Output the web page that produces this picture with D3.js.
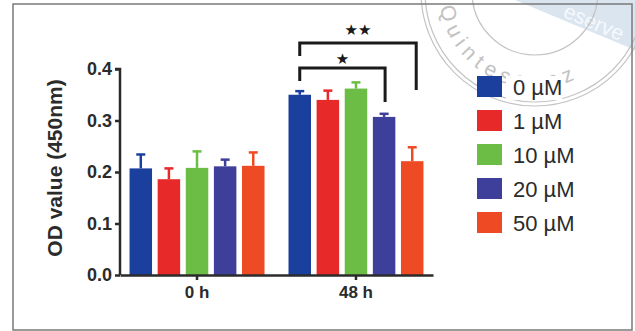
<!DOCTYPE html>
<html>
<head>
<meta charset="utf-8">
<script src="https://cdn.jsdelivr.net/npm/d3@7"></script>
<style>
  body { margin: 0; background: #fff; }
  svg { display: block; font-family: Arial, "Liberation Sans", sans-serif; }
</style>
</head>
<body>
<div id="chart"></div>
<script>
// data
const groups = ["0 h", "48 h"];
const doses = ["0 µM", "1 µM", "10 µM", "20 µM", "50 µM"];
const colors = ["#1a3f9c", "#e8292a", "#6cbd45", "#3d3f9a", "#ee4a23"];
const means0h = [0.207, 0.186, 0.208, 0.211, 0.212];
const err0h = [0.027, 0.021, 0.032, 0.013, 0.026];
const means48h = [0.350, 0.340, 0.362, 0.307, 0.221];
const err48h = [0.007, 0.018, 0.012, 0.006, 0.027];
const yTicks = [0.0, 0.1, 0.2, 0.3, 0.4];

const width = 635, height = 331;
const ink = "#2b2b2b";
const svg = d3.select("#chart").append("svg")
  .attr("width", width)
  .attr("height", height);

// watermark (stamp + band)
const wm = svg.append("g");
wm.append("path")
  .attr("d", "M515,0 L635,0 L635,50 Z")
  .attr("fill", "#dae5f0");
wm.append("text")
  .attr("transform", "translate(594,22) rotate(23)")
  .attr("text-anchor", "middle")
  .attr("dy", "0.35em")
  .attr("font-size", 21)
  .attr("fill", "#f6f9fc")
  .text("eserve");
[63, 110, 114].forEach(r => {
  wm.append("circle")
    .attr("cx", 535).attr("cy", -8).attr("r", r)
    .attr("fill", "none")
    .attr("stroke", "#c4c4c4")
    .attr("stroke-width", 1.2);
});
const arcPath = d3.path();
arcPath.arc(535, -8, 96, Math.PI * 0.95, Math.PI * 0.25, true);
wm.append("path").attr("id", "stampArc").attr("d", arcPath.toString()).attr("fill", "none");
wm.append("text")
  .attr("font-size", 21)
  .attr("fill", "#c2c2c2")
  .attr("letter-spacing", 6)
  .append("textPath")
  .attr("href", "#stampArc")
  .text("Quintessenz");

// frame
svg.append("rect")
  .attr("x", 13).attr("y", 4)
  .attr("width", 619).attr("height", 326)
  .attr("fill", "none")
  .attr("stroke", "#7a7a7a")
  .attr("stroke-width", 1.5);

// scales
const y = d3.scaleLinear().domain([0, 0.4]).range([275, 69]);
const x0 = d3.scaleBand().domain(groups).range([120, 433]).paddingInner(0.151).paddingOuter(0.06);
const x1 = d3.scaleBand().domain(doses).range([0, x0.bandwidth()]).paddingInner(0.2);

const data = [means0h, means48h].map((m, gi) =>
  m.map((v, i) => ({ group: groups[gi], dose: doses[i], value: v, err: (gi ? err48h : err0h)[i], color: colors[i] })));

const gg = svg.append("g").selectAll("g.grp").data(data).join("g")
  .attr("class", "grp")
  .attr("transform", d => `translate(${x0(d[0].group)},0)`);

// error bars (upper only)
gg.selectAll("g.err").data(d => d).join("g").attr("class", "err")
  .each(function (d) {
    const cx = x1(d.dose) + x1.bandwidth() / 2;
    const s = d3.select(this);
    s.append("line")
      .attr("x1", cx).attr("x2", cx)
      .attr("y1", y(d.value)).attr("y2", y(d.value + d.err))
      .attr("stroke", d.color).attr("stroke-width", 2.5);
    s.append("line")
      .attr("x1", cx - 4.5).attr("x2", cx + 4.5)
      .attr("y1", y(d.value + d.err)).attr("y2", y(d.value + d.err))
      .attr("stroke", d.color).attr("stroke-width", 2.5);
  });

gg.selectAll("rect").data(d => d).join("rect")
  .attr("x", d => x1(d.dose))
  .attr("y", d => y(d.value))
  .attr("width", x1.bandwidth())
  .attr("height", d => y(0) - y(d.value))
  .attr("fill", d => d.color);

// axes
const yAxis = svg.append("g")
  .attr("transform", "translate(120,0)")
  .call(d3.axisLeft(y).tickValues(yTicks).tickFormat(d3.format(".1f")).tickSize(5).tickPadding(3));
yAxis.select(".domain").attr("d", `M-5,${y(0.4)}H0V${y(0)}`);

const xAxis = svg.append("g")
  .attr("transform", `translate(0,${y(0)})`)
  .call(d3.axisBottom(x0).tickSize(5).tickPadding(6).tickSizeOuter(0));

[yAxis, xAxis].forEach(a => {
  a.select(".domain").attr("stroke", ink).attr("stroke-width", 2.5);
  a.selectAll(".tick line").attr("stroke", ink).attr("stroke-width", 2.5);
  a.selectAll(".tick text").attr("fill", ink).attr("font-weight", "bold");
});
yAxis.selectAll(".tick text").attr("font-size", 18);
xAxis.selectAll(".tick text").attr("font-size", 17);

svg.append("text")
  .attr("transform", `translate(55,168) rotate(-90)`)
  .attr("text-anchor", "middle")
  .attr("dy", "0.35em")
  .attr("font-size", 21)
  .attr("font-weight", "bold")
  .attr("fill", ink)
  .text("OD value (450nm)");

// significance brackets
const gx = x0("48 h");
const cx = i => gx + x1(doses[i]) + x1.bandwidth() / 2;
const brackets = [
  { from: 0, to: 4, top: 43, l: 56, r: 90, shift: 4, label: "★★", ly: 30 },
  { from: 0, to: 3, top: 68, l: 81, r: 102, shift: 1, label: "★", ly: 59 }
];
brackets.forEach(b => {
  const xl = cx(b.from), xr = cx(b.to) + b.shift;
  svg.append("path")
    .attr("d", `M${xl},${b.l}V${b.top}H${xr}V${b.r}`)
    .attr("fill", "none")
    .attr("stroke", "#1a1a1a")
    .attr("stroke-width", 3);
  svg.append("text")
    .attr("x", (xl + xr) / 2)
    .attr("y", b.ly)
    .attr("dy", "0.35em")
    .attr("text-anchor", "middle")
    .attr("font-family", "DejaVu Sans")
    .attr("font-size", 15)
    .attr("fill", "#1a1a1a")
    .text(b.label);
});

// legend (small white patch hides the stamp behind the first label)
svg.append("rect")
  .attr("x", 506).attr("y", 76)
  .attr("width", 56).attr("height", 24)
  .attr("fill", "#fff");
const legend = svg.append("g").attr("transform", "translate(477,76)");
const li = legend.selectAll("g").data(doses).join("g")
  .attr("transform", (d, i) => `translate(0,${i * 34})`);
li.append("rect")
  .attr("width", 25).attr("height", 21)
  .attr("fill", (d, i) => colors[i]);
li.append("text")
  .attr("x", 36).attr("y", 11)
  .attr("dy", "0.35em")
  .attr("font-size", 22)
  .attr("fill", ink)
  .text(d => d);
</script>
</body>
</html>
